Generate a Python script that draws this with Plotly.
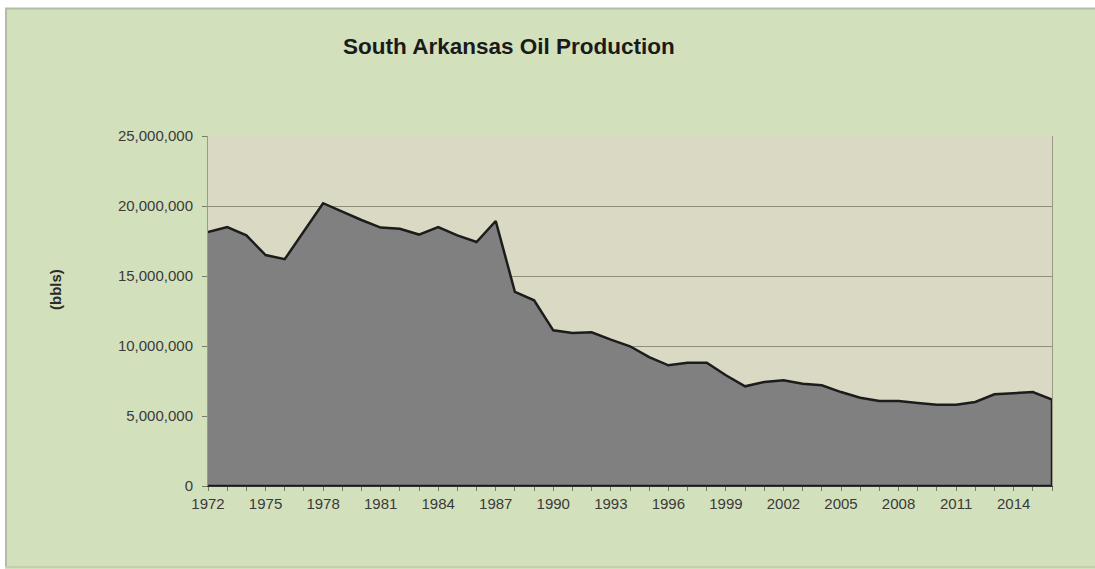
import plotly.graph_objects as go

years = list(range(1972, 2017))
production = [
    18.14e6, 18.50e6, 17.90e6, 16.50e6, 16.20e6, 18.20e6, 20.20e6, 19.60e6,
    19.00e6, 18.46e6, 18.38e6, 17.96e6, 18.50e6, 17.90e6, 17.43e6, 18.93e6,
    13.86e6, 13.26e6, 11.12e6, 10.93e6, 10.98e6, 10.45e6, 9.98e6, 9.20e6,
    8.62e6, 8.81e6, 8.81e6, 7.91e6, 7.12e6, 7.43e6, 7.55e6, 7.31e6,
    7.19e6, 6.71e6, 6.31e6, 6.07e6, 6.07e6, 5.93e6, 5.81e6, 5.81e6,
    6.00e6, 6.55e6, 6.64e6, 6.71e6, 6.17e6,
]
x_tickvals = list(range(1972, 2015, 3))
y_tickvals = [0, 5e6, 10e6, 15e6, 20e6, 25e6]

title_text = "South Arkansas Oil Production"
y_title = "(bbls)"

W, H = 1095, 569
L, R, T, B = 208, 43, 136, 83
pw, ph = W - L - R, H - T - B

def px(x):
    return (x - L) / pw

def py(y):
    return (H - B - y) / ph

GREEN = "#D3E0BC"
FONT = "Liberation Sans, Arial, sans-serif"
TXT = "#3a3a3a"

fig = go.Figure()
fig.add_trace(go.Scatter(
    x=years + [years[-1], years[0]],
    y=production + [0, 0],
    mode="lines",
    fill="toself",
    fillcolor="#808080",
    line=dict(color="#1c1c1c", width=2.5),
    hoverinfo="skip",
    showlegend=False,
))

shapes = [
    dict(type="rect", xref="paper", yref="paper", x0=px(0), x1=px(W), y0=py(0), y1=py(8),
         fillcolor="white", line=dict(width=0), layer="above"),
    dict(type="rect", xref="paper", yref="paper", x0=px(0), x1=px(5), y0=py(0), y1=py(H),
         fillcolor="white", line=dict(width=0), layer="above"),
    dict(type="line", xref="paper", yref="paper", x0=px(5), x1=px(W), y0=py(8.5), y1=py(8.5),
         line=dict(color="#b3bca8", width=2), layer="above"),
    dict(type="line", xref="paper", yref="paper", x0=px(6), x1=px(6), y0=py(8), y1=py(567),
         line=dict(color="#b3bca8", width=2), layer="above"),
    dict(type="line", xref="paper", yref="paper", x0=px(6), x1=px(W), y0=py(567), y1=py(567),
         line=dict(color="#c4cfb0", width=2), layer="above"),
]

fig.update_layout(
    width=W, height=H,
    margin=dict(l=L, r=R, t=T, b=B, pad=0),
    paper_bgcolor=GREEN,
    plot_bgcolor="#D9D9C4",
    font=dict(family=FONT, color=TXT),
    showlegend=False,
    shapes=shapes,
    annotations=[
        dict(text="<b>" + title_text + "</b>", xref="paper", yref="paper",
             x=px(509), y=py(46), xanchor="center", yanchor="middle", showarrow=False,
             font=dict(size=22.5, color="#1a1a1a", family=FONT)),
        dict(text="<b>" + y_title + "</b>", xref="paper", yref="paper",
             x=px(55), y=py(290), xanchor="center", yanchor="middle", showarrow=False,
             textangle=-90, font=dict(size=15, color="#2a2a2a", family=FONT)),
    ],
    xaxis=dict(
        range=[years[0], years[-1]],
        tickmode="array", tickvals=x_tickvals, ticktext=[str(v) for v in x_tickvals],
        ticks="outside", ticklen=4, tickcolor="#7a7a6a", tickwidth=1,
        minor=dict(dtick=1, tick0=1972, ticks="outside", ticklen=4, tickcolor="#7a7a6a", showgrid=False),
        showgrid=False, zeroline=False,
        showline=True, linecolor="#303030", linewidth=1,
        tickfont=dict(size=15, color=TXT, family=FONT),
        fixedrange=True,
    ),
    yaxis=dict(
        range=[0, 25e6],
        tickmode="array", tickvals=y_tickvals,
        ticktext=[f"{int(v):,}" for v in y_tickvals],
        ticks="outside", ticklen=5, tickcolor="#7a7a6a", tickwidth=1,
        ticklabelstandoff=6,
        showgrid=True, gridcolor="#8f8f7c", gridwidth=1,
        zeroline=False,
        showline=True, linecolor="#9a9a86", linewidth=1, mirror=True,
        tickfont=dict(size=15, color=TXT, family=FONT),
        fixedrange=True,
    ),
)

fig.write_html("out.html")
